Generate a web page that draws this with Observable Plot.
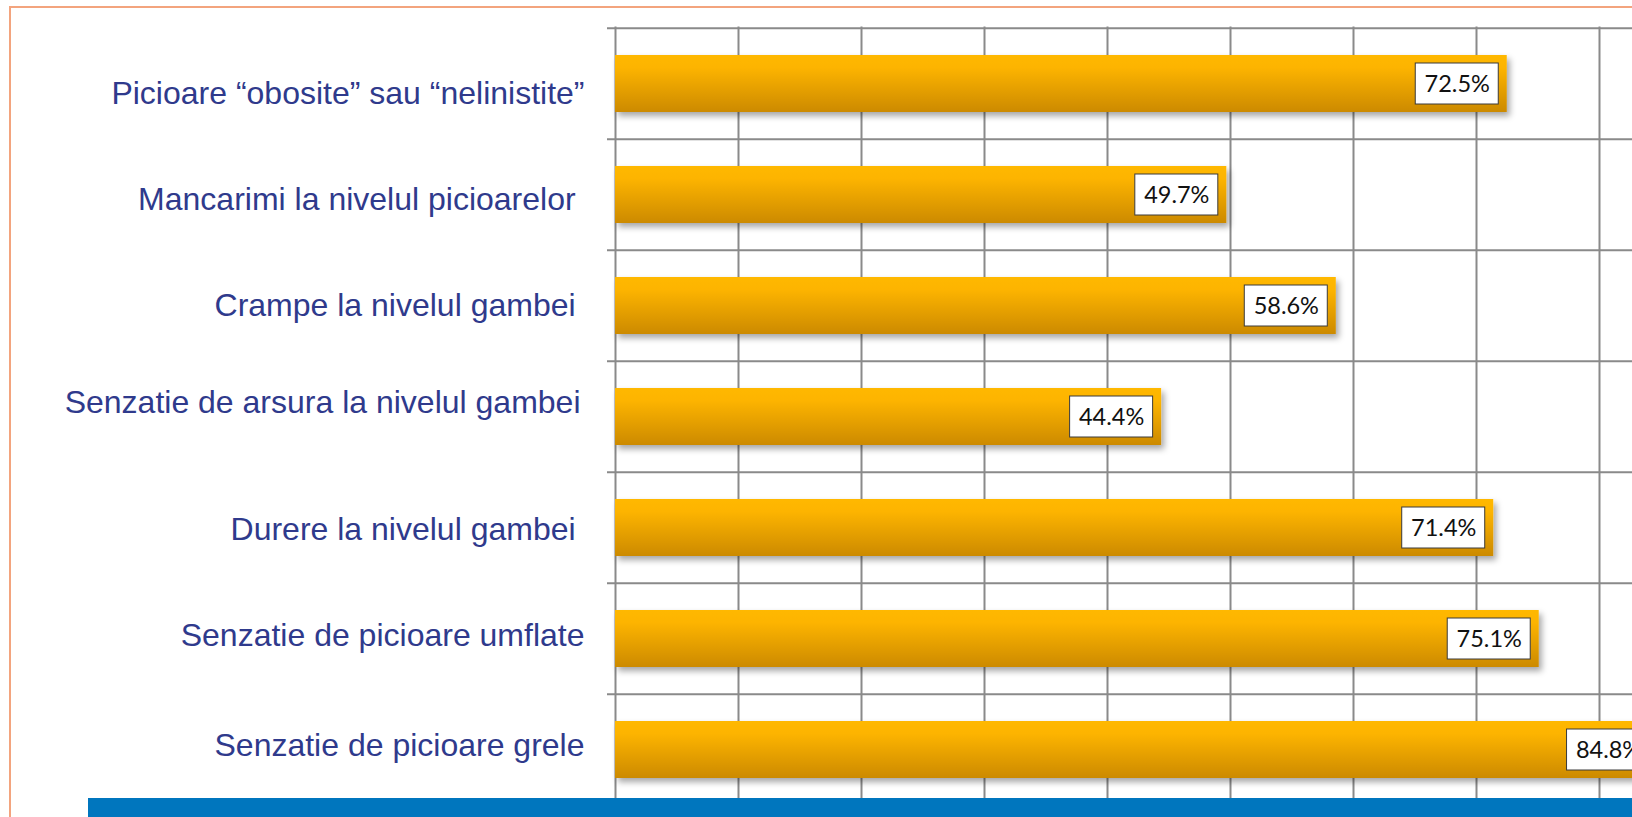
<!DOCTYPE html>
<html><head><meta charset="utf-8">
<script src="https://cdn.jsdelivr.net/npm/d3@7"></script>
<script src="https://cdn.jsdelivr.net/npm/@observablehq/plot@0.6"></script>
<style>
html,body{margin:0;padding:0;background:#fff;overflow:hidden;}
#page{position:relative;width:1632px;height:817px;overflow:hidden;background:#fff;}
#chart{position:absolute;left:0;top:0;}
#frame{position:absolute;left:9px;top:6px;width:3000px;height:3000px;border-top:2px solid #F3A47E;border-left:2px solid #F3A47E;box-sizing:border-box;pointer-events:none;}
#band{position:absolute;left:88px;top:798px;width:1600px;height:19px;background:#0076BE;}
svg text{white-space:pre;}
</style></head>
<body><div id="page"><div id="chart"></div><div id="frame"></div><div id="band"></div></div>
<script>
// ---- data ----
const labels = [
  "Picioare \u201Cobosite\u201D sau \u201Cnelinistite\u201D",
  "Mancarimi la nivelul picioarelor ",
  "Crampe la nivelul gambei ",
  "Senzatie de arsura la nivelul gambei",
  "Durere la nivelul gambei ",
  "Senzatie de picioare umflate",
  "Senzatie de picioare grele"
];
const values = [72.5, 49.7, 58.6, 44.4, 71.4, 75.1, 84.8];
const xTicks = [0, 10, 20, 30, 40, 50, 60, 70, 80, 90];

// ---- layout ----
const W = 1722, H = 817, mTop = 26.5, mBottom = 11, mLeft = 615;
const step = (H - mTop - mBottom) / labels.length;
const labelNudge = [10, 4.5, 0, -14, 1.5, -3.5, -4.5];
const labelShiftX = [0, 0, 0, -4, 0, 0, 0];
const grid = "#8a8a8a";

const rows = labels.map((label, i) => ({label, value: values[i]}));

const svg = Plot.plot({
  width: W, height: H,
  marginTop: mTop, marginBottom: mBottom, marginLeft: mLeft, marginRight: 0,
  style: {background: "transparent", maxWidth: "none", overflow: "visible"},
  x: {domain: [0, 90], axis: null},
  y: {domain: labels, axis: null, paddingInner: 0.49, paddingOuter: 0.245},
  marks: [
    Plot.ruleX(xTicks, {x: d => d, stroke: grid, strokeWidth: 2}),
    Plot.ruleY(labels, {y: d => d, dy: -step / 2, insetLeft: -8, stroke: grid, strokeWidth: 2}),
    Plot.barX(rows, {x: "value", y: "label", fill: "#FFB800"}),
    Plot.barX(rows, {x1: "value", x2: "value", y: "label", insetLeft: -91.5, insetRight: 8.5,
      insetTop: 8, insetBottom: 8, fill: "white", stroke: "#3a3a3a", strokeWidth: 1}),
    Plot.text(rows, {x: "value", y: "label", text: d => d.value.toFixed(1) + "%", dx: -50,
      fontFamily: "Lato", fontSize: 23.5, fill: "#111"}),
    ...rows.map((r, i) => Plot.text([r], {y: "label", text: "label", frameAnchor: "left",
      textAnchor: "end", dx: -31 + labelShiftX[i], dy: labelNudge[i], fontFamily: "Liberation Sans, Arial, sans-serif",
      fontSize: 32, fill: "#2F3A8C"}))
  ]
});

const s = d3.select(svg);
const defs = s.insert("defs", ":first-child");
const g = defs.append("linearGradient").attr("id", "barGrad")
  .attr("x1", 0).attr("y1", 0).attr("x2", 0).attr("y2", 1);
g.append("stop").attr("offset", "0").attr("stop-color", "#FFB800");
g.append("stop").attr("offset", "0.22").attr("stop-color", "#FDB400");
g.append("stop").attr("offset", "1").attr("stop-color", "#CC8A00");
const f = defs.append("filter").attr("id", "barShadow")
  .attr("x", "-5%").attr("y", "-20%").attr("width", "110%").attr("height", "160%");
f.append("feDropShadow").attr("dx", 3).attr("dy", 4).attr("stdDeviation", 3)
  .attr("flood-color", "#000").attr("flood-opacity", 0.35);

const barG = svg.querySelectorAll('g[aria-label="bar"]')[0];
barG.setAttribute("fill", "url(#barGrad)");
barG.setAttribute("filter", "url(#barShadow)");
barG.querySelectorAll("rect").forEach(r => r.removeAttribute("fill"));

document.getElementById("chart").appendChild(svg);
</script>
</body></html>
